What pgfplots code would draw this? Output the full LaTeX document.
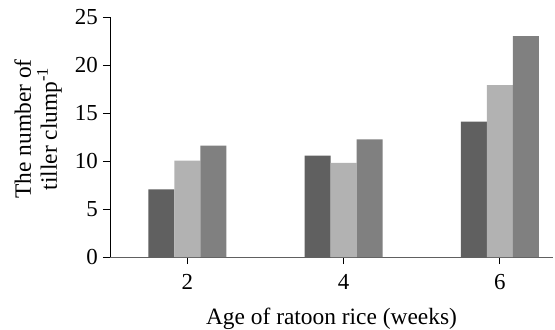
\documentclass[border=0pt]{standalone}
\usepackage{fontspec}
\setmainfont{Liberation Serif}
\usepackage{pgfplots}
\pgfplotsset{compat=1.18}
\definecolor{cdark}{RGB}{96,96,96}
\definecolor{clight}{RGB}{178,178,178}
\definecolor{cmid}{RGB}{128,128,128}
\begin{document}
\fontsize{24}{28}\selectfont
\begin{tikzpicture}
\begin{axis}[
  scale only axis,
  width=443bp, height=240bp,
  xmin=1.01, xmax=6.68, ymin=0, ymax=25,
  axis x line=bottom, axis y line=left,
  axis line style={-},
  x axis line style={draw=cdark},
  xtick={2,4,6}, ytick={0,5,10,15,20,25},
  tick align=outside, major tick length=7bp,
  tick style={black, line width=0.8pt},
  /pgf/number format/assume math mode=true,
  tick label style={font=\fontsize{23}{27}\selectfont},
  label style={font=\fontsize{23.5}{26}\selectfont},
  ybar=0pt, bar width=0.333,
  xlabel={Age of ratoon rice (weeks)},
  ylabel={The number of\\tiller clump\textsuperscript{-1}},
  ylabel style={align=center, xshift=8bp, yshift=-3bp},
  yticklabel style={xshift=3bp},
  xticklabel style={yshift=-2bp},
  xlabel style={yshift=-2bp},
]
\addplot[fill=cdark, draw=none] coordinates {(2,7.05) (4,10.55) (6,14.1)};
\addplot[fill=clight, draw=none] coordinates {(2,10.05) (4,9.8) (6,17.9)};
\addplot[fill=cmid, draw=none] coordinates {(2,11.6) (4,12.25) (6,23.0)};
\coordinate (ll) at (rel axis cs:0,0);
\coordinate (ur) at (rel axis cs:1,1);
\end{axis}
\pgfresetboundingbox
\path ([shift={(-110bp,-73bp)}]ll) rectangle ([shift={(2bp,17bp)}]ur);
\end{tikzpicture}
\end{document}
